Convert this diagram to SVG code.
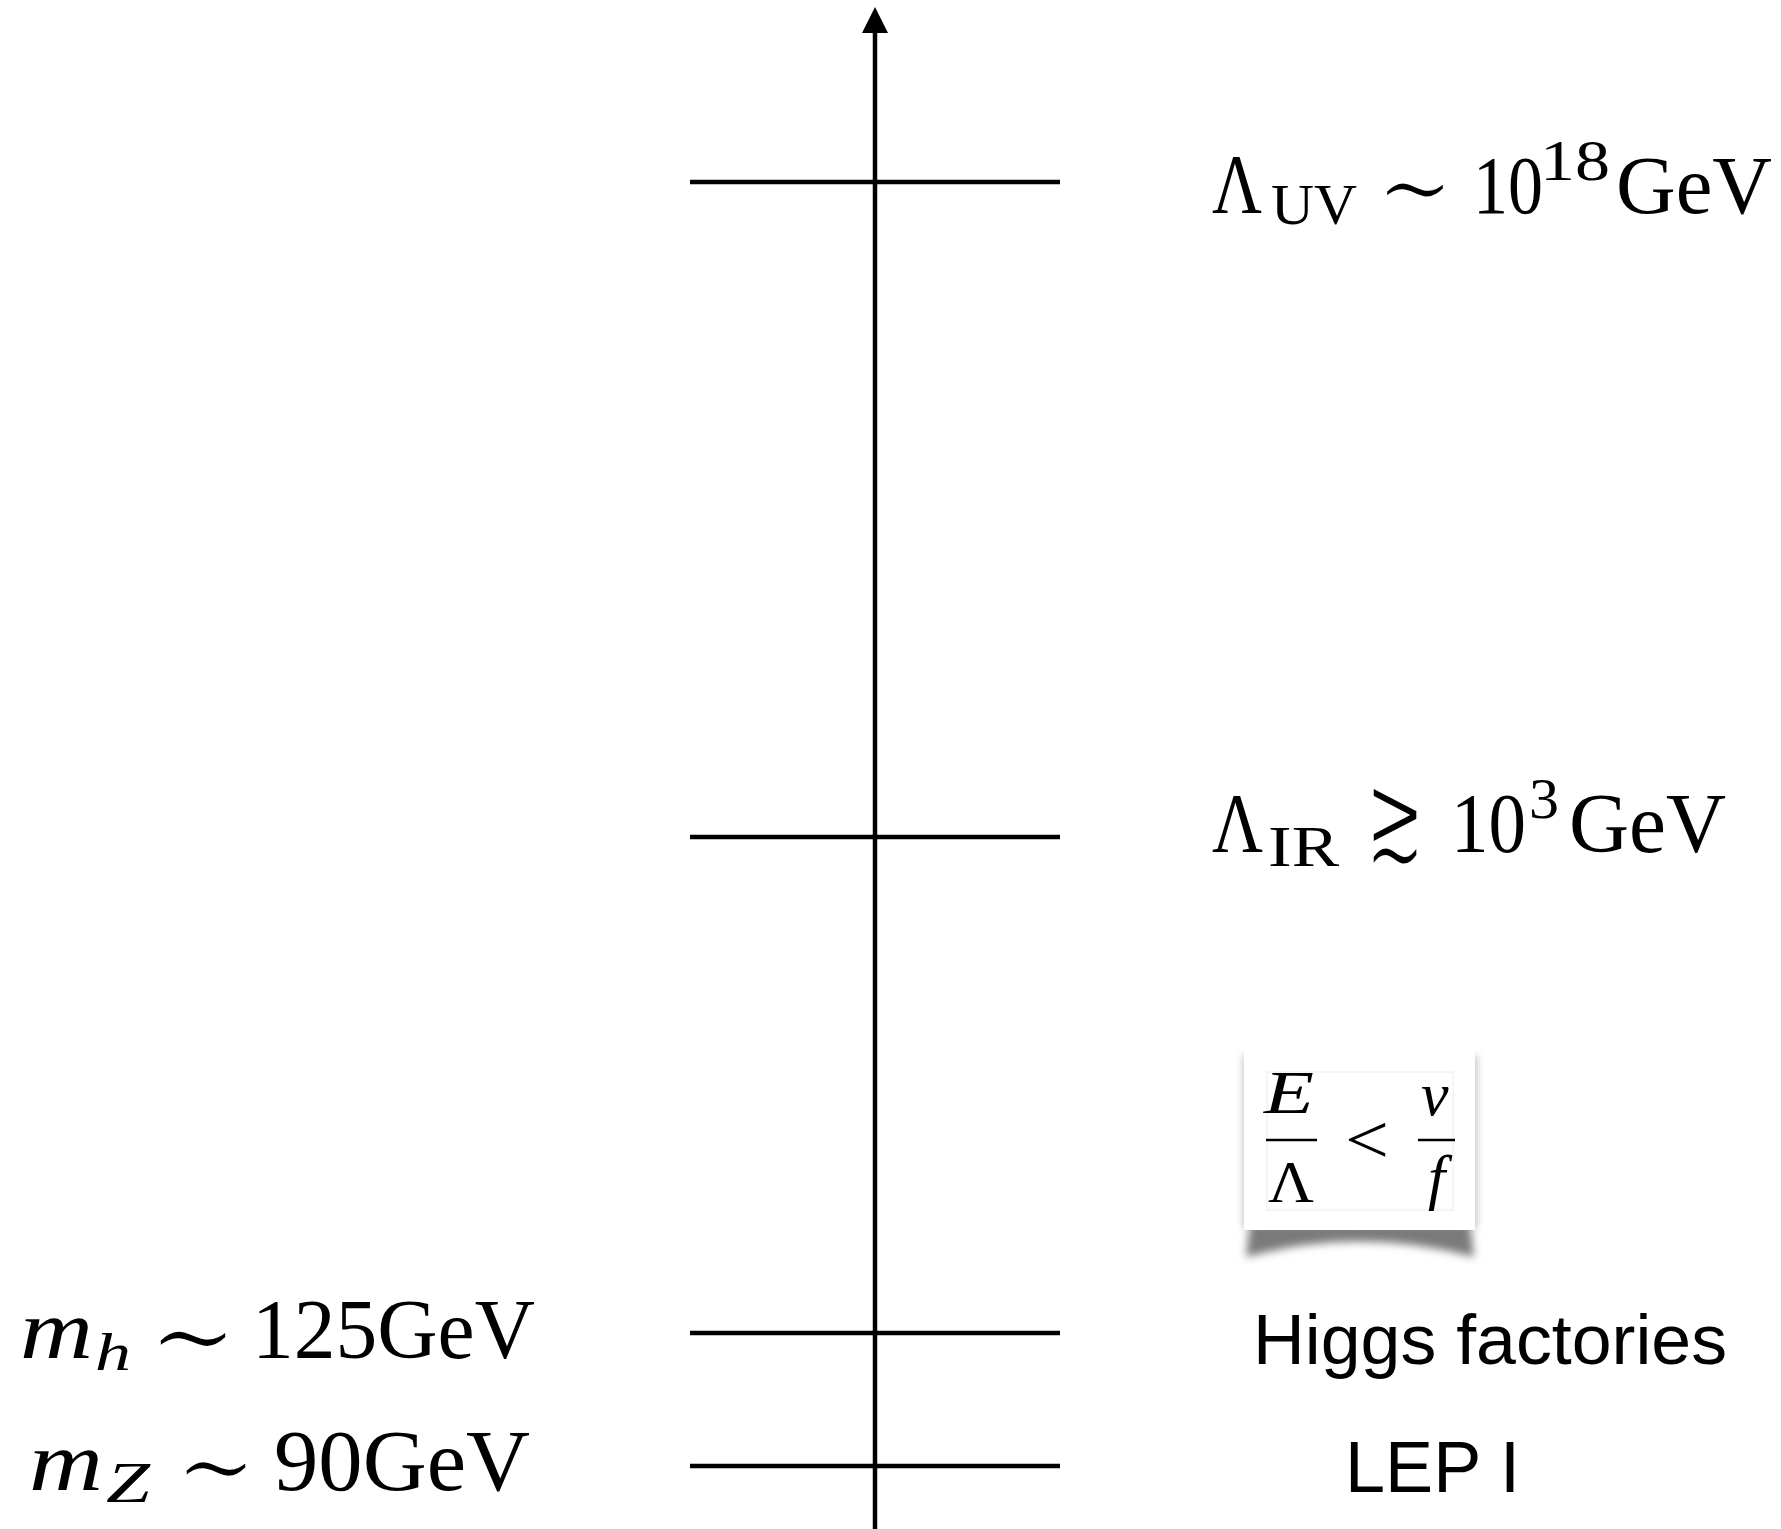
<svg xmlns="http://www.w3.org/2000/svg" width="1781" height="1529" viewBox="0 0 1781 1529">
<style>
.ln{stroke:#000;stroke-width:4.5;fill:none}
.m{font-family:"Liberation Serif","DejaVu Serif",serif;fill:#000}
.sym{font-family:"DejaVu Serif","Liberation Serif",serif;fill:#000;stroke:#fff;stroke-width:3}
.sym2{font-family:"DejaVu Serif","Liberation Serif",serif;fill:#000;stroke:#fff;stroke-width:4}
.it{font-style:italic}
.s{font-family:"Liberation Sans",Arial,sans-serif;fill:#000}
.bar{stroke:#000;stroke-width:2.5}
</style>
<defs>
<marker id="ah" viewBox="0 0 26 26" refX="0" refY="13" markerWidth="26" markerHeight="26" markerUnits="userSpaceOnUse" orient="auto">
<path d="M0,0 L26,13 L0,26 z" fill="#000"/>
</marker>
<filter id="blur" x="-20%" y="-50%" width="140%" height="200%"><feGaussianBlur stdDeviation="4"/></filter>
<filter id="blur2" x="-20%" y="-20%" width="140%" height="140%"><feGaussianBlur stdDeviation="3"/></filter>
</defs>
<rect width="1781" height="1529" fill="#fff"/>

<g id="connectors">
<line id="axis" class="ln" x1="875" y1="1529" x2="875" y2="33" marker-end="url(#ah)"/>
</g>

<g id="tick-uv"><line class="ln" x1="690" y1="182" x2="1060" y2="182"/></g>
<g id="tick-ir"><line class="ln" x1="690" y1="837" x2="1060" y2="837"/></g>
<g id="tick-mh"><line class="ln" x1="690" y1="1333" x2="1060" y2="1333"/></g>
<g id="tick-mz"><line class="ln" x1="690" y1="1466" x2="1060" y2="1466"/></g>

<g id="label-uv">
<text class="m" x="1212" y="213" font-size="84" textLength="50" lengthAdjust="spacingAndGlyphs">Λ</text>
<text class="m" x="1271" y="224" font-size="56" textLength="86" lengthAdjust="spacingAndGlyphs">UV</text>
<text class="sym" x="1376" y="223" font-size="105" textLength="78" lengthAdjust="spacingAndGlyphs">∼</text>
<text class="m" x="1473" y="213" font-size="82" textLength="70" lengthAdjust="spacingAndGlyphs">10</text>
<text class="m" x="1540" y="180" font-size="56" textLength="70" lengthAdjust="spacingAndGlyphs">18</text>
<text class="m" x="1616" y="213" font-size="82" textLength="156" lengthAdjust="spacingAndGlyphs">GeV</text>
</g>

<g id="label-ir">
<text class="m" x="1212" y="852" font-size="84" textLength="51" lengthAdjust="spacingAndGlyphs">Λ</text>
<text class="m" x="1268" y="866" font-size="56" textLength="71" lengthAdjust="spacingAndGlyphs">IR</text>
<text class="sym2" x="1365" y="862" font-size="130" textLength="60" lengthAdjust="spacingAndGlyphs">≳</text>
<text class="m" x="1451" y="852" font-size="84" textLength="75" lengthAdjust="spacingAndGlyphs">10</text>
<text class="m" x="1529" y="818" font-size="56" textLength="30" lengthAdjust="spacingAndGlyphs">3</text>
<text class="m" x="1569" y="852" font-size="84" textLength="157" lengthAdjust="spacingAndGlyphs">GeV</text>
</g>

<g id="label-mh">
<text class="m it" x="20" y="1358" font-size="84" textLength="73" lengthAdjust="spacingAndGlyphs">m</text>
<text class="m it" x="95" y="1370" font-size="52" textLength="36" lengthAdjust="spacingAndGlyphs">h</text>
<text class="sym" x="148" y="1374" font-size="112" textLength="90" lengthAdjust="spacingAndGlyphs">∼</text>
<text class="m" x="252" y="1358" font-size="84" textLength="283" lengthAdjust="spacingAndGlyphs">125GeV</text>
</g>

<g id="label-mz">
<text class="m it" x="29" y="1490" font-size="84" textLength="74" lengthAdjust="spacingAndGlyphs">m</text>
<text class="m it" x="106" y="1502" font-size="58" textLength="44" lengthAdjust="spacingAndGlyphs">Z</text>
<text class="sym" x="175" y="1503" font-size="108" textLength="82" lengthAdjust="spacingAndGlyphs">∼</text>
<text class="m" x="274" y="1490" font-size="86" textLength="256" lengthAdjust="spacingAndGlyphs">90GeV</text>
</g>

<g id="label-higgs">
<text class="s" x="1253" y="1364" font-size="71" textLength="474" lengthAdjust="spacingAndGlyphs">Higgs factories</text>
</g>
<g id="label-lep">
<text class="s" x="1345" y="1492" font-size="73" textLength="175" lengthAdjust="spacingAndGlyphs">LEP I</text>
</g>

<g id="card">
<path d="M1250,1222 L1470,1222 L1474,1257 Q1360,1226 1246,1257 Z" fill="#7a7a7a" filter="url(#blur)"/>
<rect x="1242" y="1055" width="236" height="172" fill="#b0b0b0" filter="url(#blur2)" opacity="0.6"/>
<rect x="1244" y="1049" width="231" height="181" fill="#fff"/>
<rect x="1267" y="1072" width="186" height="138" fill="none" stroke="#ececec" stroke-width="1"/>
<text class="m it" x="1264" y="1113" font-size="62" textLength="50" lengthAdjust="spacingAndGlyphs">E</text>
<line class="bar" x1="1266" y1="1140" x2="1317" y2="1140"/>
<text class="m" x="1268" y="1202" font-size="60" textLength="46" lengthAdjust="spacingAndGlyphs">Λ</text>
<text class="m" x="1345" y="1163" font-size="70" textLength="44" lengthAdjust="spacingAndGlyphs">&lt;</text>
<text class="m it" x="1421" y="1115" font-size="62">v</text>
<line class="bar" x1="1418" y1="1140" x2="1455" y2="1140"/>
<text class="m it" x="1428" y="1198" font-size="62">f</text>
</g>
</svg>
